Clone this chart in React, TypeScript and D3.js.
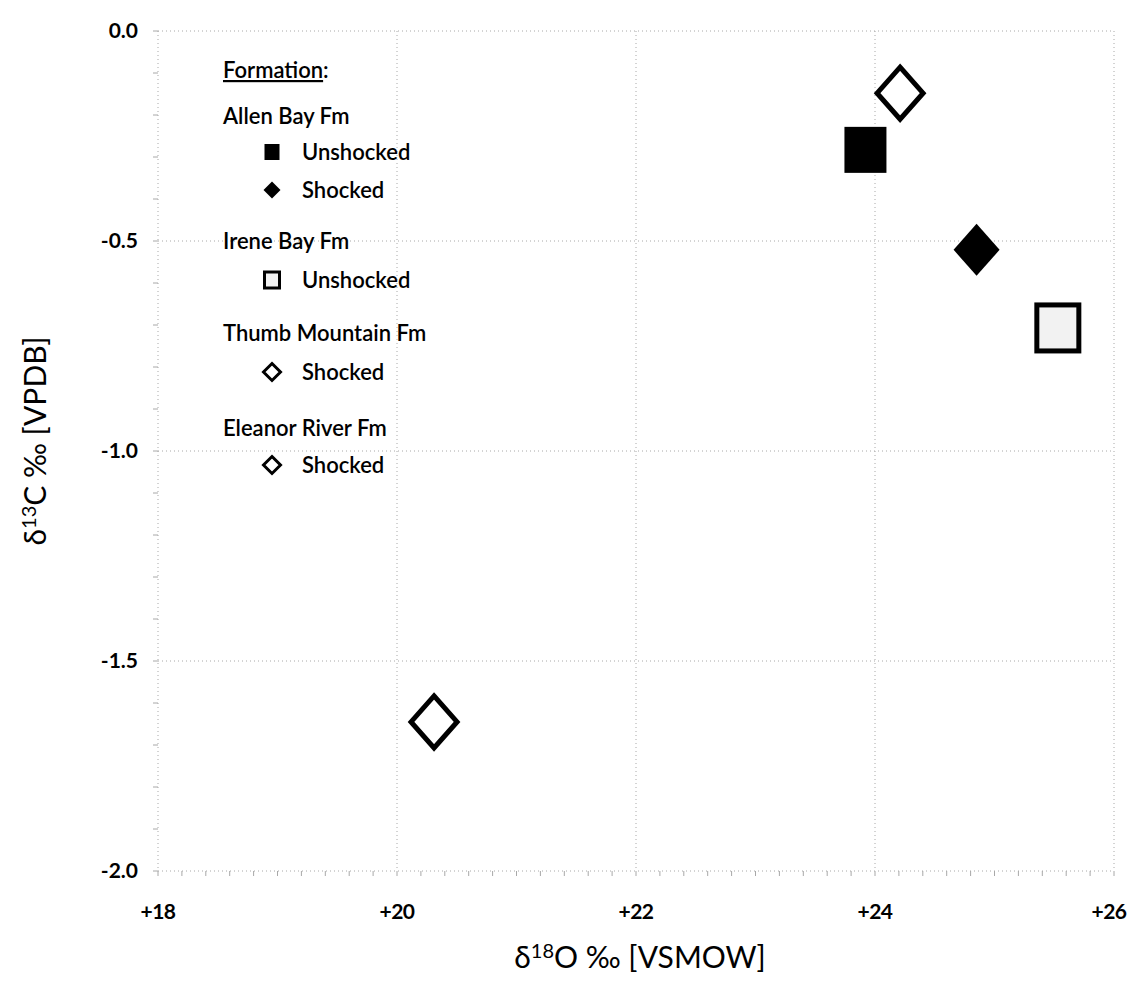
import React from "react";
import { scaleLinear, range } from "d3";

// values
const seriesNames = [
  "Allen Bay Fm Unshocked",
  "Allen Bay Fm Shocked",
  "Irene Bay Fm Unshocked",
  "Thumb Mountain Fm Shocked",
  "Eleanor River Fm Shocked",
];
const d18O = [23.92, 24.85, 25.53, 24.21, 20.31];
const d13C = [-0.283, -0.521, -0.707, -0.148, -1.645];
const shapes = ["square", "diamond", "square", "diamond", "diamond"];
const filled = [true, true, false, false, false];

const xTicks = [18, 20, 22, 24, 26];
const yTicks = [0, -0.5, -1, -1.5, -2];

const legendRows = [
  { label: "Allen Bay Fm", kind: "head" },
  { label: "Unshocked", kind: "item", series: 0 },
  { label: "Shocked", kind: "item", series: 1 },
  { label: "Irene Bay Fm", kind: "head" },
  { label: "Unshocked", kind: "item", series: 2 },
  { label: "Thumb Mountain Fm", kind: "head" },
  { label: "Shocked", kind: "item", series: 3 },
  { label: "Eleanor River Fm", kind: "head" },
  { label: "Shocked", kind: "item", series: 4 },
];
const legendY = [116, 152, 190, 241, 280, 333, 372, 428, 465];

const width = 1131;
const height = 989;
const marginLeft = 158;
const marginRight = 17;
const marginTop = 31;
const marginBottom = 118;

const font = "Lato, 'Open Sans', sans-serif";

const Marker = ({ shape, fill, cx, cy, w, h, sw }) => {
  if (shape === "square") {
    return (
      <rect
        x={cx - w / 2}
        y={cy - h / 2}
        width={w}
        height={h}
        fill={fill ? "#000" : "#f2f2f2"}
        stroke="#000"
        strokeWidth={fill ? 0 : sw}
      />
    );
  }
  const d = `M${cx},${cy - h / 2}L${cx + w / 2},${cy}L${cx},${cy + h / 2}L${cx - w / 2},${cy}Z`;
  return (
    <path
      d={d}
      fill={fill ? "#000" : "#fff"}
      stroke="#000"
      strokeWidth={fill ? 0 : sw}
      strokeLinejoin="miter"
    />
  );
};

export default function App() {
  const x = scaleLinear()
    .domain([18, 26])
    .range([marginLeft, width - marginRight]);
  const y = scaleLinear()
    .domain([-2, 0])
    .range([height - marginBottom, marginTop]);

  const xMinor = range(18, 26.001, 0.2);
  const yMinor = range(-2, 0.001, 0.1);
  const grid = "#a8a8a8";

  return (
    <svg
      width={width}
      height={height}
      style={{ position: "absolute", left: 0, top: 0, background: "#fff" }}
      fontFamily={font}
    >
      {/* grid */}
      {xTicks.map((t) => (
        <line
          key={"gx" + t}
          x1={x(t)}
          x2={x(t)}
          y1={y(0)}
          y2={y(-2)}
          stroke={grid}
          strokeWidth={1}
          strokeDasharray="1 3"
        />
      ))}
      {yTicks.map((t) => (
        <line
          key={"gy" + t}
          x1={x(18)}
          x2={x(26)}
          y1={y(t)}
          y2={y(t)}
          stroke={grid}
          strokeWidth={1}
          strokeDasharray="1 3"
        />
      ))}

      {/* minor ticks */}
      {xMinor.map((t, i) => (
        <line
          key={"mx" + i}
          x1={x(t)}
          x2={x(t)}
          y1={y(-2)}
          y2={y(-2) + 5}
          stroke={grid}
          strokeWidth={1}
        />
      ))}
      {yMinor.map((t, i) => (
        <line
          key={"my" + i}
          x1={x(18) - 5}
          x2={x(18)}
          y1={y(t)}
          y2={y(t)}
          stroke={grid}
          strokeWidth={1}
        />
      ))}

      {/* tick labels */}
      {xTicks.map((t) => (
        <text
          key={"tx" + t}
          x={Math.min(x(t), width - 22)}
          y={y(-2) + 48}
          textAnchor="middle"
          fontSize={21}
          fontWeight={700}
          letterSpacing={-0.5}
        >
          {"+" + t}
        </text>
      ))}
      {yTicks.map((t) => (
        <text
          key={"ty" + t}
          x={x(18) - 20}
          y={y(t)}
          dy="0.35em"
          textAnchor="end"
          fontSize={21}
          fontWeight={700}
        >
          {t === 0 ? "0.0" : t.toFixed(1)}
        </text>
      ))}

      {/* axis titles */}
      <text x={640} y={968} textAnchor="middle" fontSize={30}>
        δ<tspan dy={-10} fontSize={20}>18</tspan>
        <tspan dy={10}>O ‰ [VSMOW]</tspan>
      </text>
      <text
        transform={`translate(46,${(y(0) + y(-2)) / 2 - 10}) rotate(-90)`}
        textAnchor="middle"
        fontSize={30}
      >
        δ<tspan dy={-10} fontSize={20}>13</tspan>
        <tspan dy={10}>C ‰ [VPDB]</tspan>
      </text>

      {/* data */}
      {d18O.map((v, i) => (
        <Marker
          key={seriesNames[i]}
          shape={shapes[i]}
          fill={filled[i]}
          cx={x(v)}
          cy={y(d13C[i])}
          w={shapes[i] === "square" ? 42 : 46}
          h={shapes[i] === "square" ? 46 : 52}
          sw={5}
        />
      ))}

      {/* legend */}
      <text x={223} y={78} fontSize={22} fontWeight={600}>
        <tspan textDecoration="underline">Formation</tspan>:
      </text>
      {legendRows.map((r, i) =>
        r.kind === "head" ? (
          <text key={i} x={223} y={legendY[i]} dy="0.35em" fontSize={22} fontWeight={600}>
            {r.label}
          </text>
        ) : (
          <g key={i}>
            <Marker
              shape={shapes[r.series]}
              fill={filled[r.series]}
              cx={272}
              cy={legendY[i]}
              w={shapes[r.series] === "square" ? 15 : 17}
              h={shapes[r.series] === "square" ? 16 : 17}
              sw={3}
            />
            <text x={302} y={legendY[i]} dy="0.35em" fontSize={22} fontWeight={600}>
              {r.label}
            </text>
          </g>
        )
      )}
    </svg>
  );
}
